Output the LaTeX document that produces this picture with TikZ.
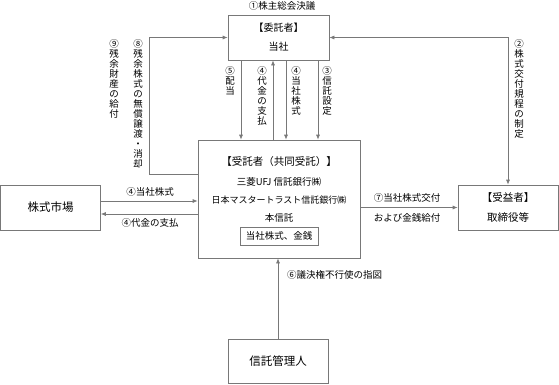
\documentclass[tikz,border=0pt]{standalone}
\usepackage{fontspec}
\setmainfont{Noto Sans CJK JP}
\usetikzlibrary{arrows.meta}
\definecolor{ln}{RGB}{120,120,120}
\begin{document}
\begin{tikzpicture}[x=1pt,y=-1pt,
  box/.style={draw=ln,line width=0.7pt,inner sep=0pt,align=center},
  arr/.style={draw=ln,line width=0.7pt,-{Latex[length=5pt,width=4pt]}},
  darr/.style={draw=ln,line width=0.7pt,{Latex[length=5pt,width=4pt]}-{Latex[length=5pt,width=4pt]}},
  plain/.style={draw=ln,line width=0.7pt},
  lbl/.style={font=\fontsize{9.5}{10}\selectfont,inner sep=0pt},
  vlbl/.style={font=\fontsize{9.5}{10}\selectfont,inner sep=0pt,align=center,anchor=north},
  txt/.style={font=\fontsize{9.5}{10}\selectfont,inner sep=0pt},
]
\useasboundingbox (0,0) rectangle (559,384);

% boxes
\node[box,minimum width=101pt,minimum height=45pt,font=\fontsize{10}{19}\selectfont] (itaku) at (278.5,37.5) {【委託者】\\当社};
\node[box,minimum width=162pt,minimum height=118pt] (jutaku) at (279,199) {};
\node[box,minimum width=100pt,minimum height=45pt,font=\fontsize{10.5}{20}\selectfont] (jueki) at (508,207.5) {【受益者】\\取締役等};
\node[box,minimum width=100pt,minimum height=45pt,font=\fontsize{11.5}{12}\selectfont] (shijo) at (50.5,207.5) {株式市場};
\node[box,minimum width=100pt,minimum height=44pt,font=\fontsize{11.5}{12}\selectfont] (kanri) at (278,361) {信託管理人};

% contents of trustee box
\node[txt,font=\fontsize{10.5}{11}\selectfont] (t1) at (279,162) {【受託者（共同受託）】};
\node[txt] (t2) at (279,182) {三菱UFJ 信託銀行㈱};
\node[txt,font=\fontsize{9}{10}\selectfont] (t3) at (279,200) {日本マスタートラスト信託銀行㈱};
\node[txt] (t4) at (279,218) {本信託};
\node[box,minimum width=78pt,minimum height=18pt,font=\fontsize{9.5}{10}\selectfont] (asset) at (279,236) {当社株式、金銭};

% x positions of vertical connectors
\coordinate (x5) at (241,0);
\coordinate (x4a) at (273,0);
\coordinate (x4b) at (286,0);
\coordinate (x3) at (318,0);
\coordinate (L) at (149,174);
\coordinate (R) at (508,37.5);
\coordinate (mU) at (0,201);
\coordinate (mD) at (0,214);

% connectors
\draw[arr] (x5 |- itaku.south) -- (x5 |- jutaku.north);
\draw[arr] (x4a |- jutaku.north) -- (x4a |- itaku.south);
\draw[arr] (x4b |- itaku.south) -- (x4b |- jutaku.north);
\draw[arr] (x3 |- itaku.south) -- (x3 |- jutaku.north);
\draw[arr] (L -| jutaku.west) -- (L) |- (itaku.west);
\draw[darr] (itaku.east) -- (R) -- (jueki.north);
\draw[arr] (mU -| shijo.east) -- (mU -| jutaku.west);
\draw[arr] (mD -| jutaku.west) -- (mD -| shijo.east);
\draw[arr] (jutaku.east |- jueki.west) -- (jueki.west);
\draw[arr] (kanri.north) -- (kanri.north |- jutaku.south);

% labels
\node[lbl] (l1) at (282,6) {①株主総会決議};
\node[vlbl] (l2) at (519,39) {②\\株\\式\\交\\付\\規\\程\\の\\制\\定};
\node[vlbl] (l3) at (327,66) {③\\信\\託\\設\\定};
\node[vlbl] (l4b) at (296,66) {④\\当\\社\\株\\式};
\node[vlbl] (l4a) at (262,66) {④\\代\\金\\の\\支\\払};
\node[vlbl] (l5) at (230,66) {⑤\\配\\当};
\node[vlbl] (l8) at (138,39) {⑧\\残\\余\\株\\式\\の\\無\\償\\譲\\渡\\・\\消\\却};
\node[vlbl] (l9) at (114,39) {⑨\\残\\余\\財\\産\\の\\給\\付};
\node[lbl] (m1) at (150,192) {④当社株式};
\node[lbl] (m2) at (150,223) {④代金の支払};
\node[lbl] (l7a) at (407,198) {⑦当社株式交付};
\node[lbl] (l7b) at (407,218) {および金銭給付};
\node[lbl,anchor=west] (l6) at (287,275) {⑥議決権不行使の指図};
\end{tikzpicture}
\end{document}
